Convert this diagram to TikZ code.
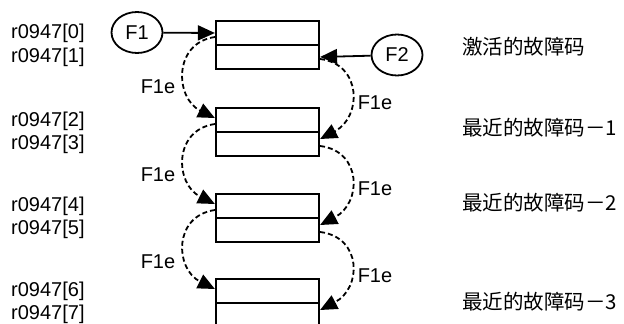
\documentclass[tikz,border=0pt]{standalone}
\usepackage{fontspec}
\setmainfont{Liberation Sans}
\newfontfamily\cjk{Noto Sans CJK SC}
\usetikzlibrary{arrows.meta,shapes.geometric}
\begin{document}
\begin{tikzpicture}[x=1pt,y=-1pt,
  row/.style={draw, line width=2.2pt, minimum width=103pt, minimum height=24pt, inner sep=0pt},
  fault/.style={draw, ellipse, line width=1.8pt, minimum width=51pt, minimum height=41pt, inner sep=0pt, font=\fontsize{20}{24}\selectfont},
  reg/.style={anchor=west, inner sep=0pt, font=\fontsize{20}{24}\selectfont},
  lab/.style={inner sep=0pt, font=\fontsize{20}{24}\selectfont},
  zh/.style={anchor=west, inner sep=0pt, font=\fontsize{20.5}{24}\cjk},
  arr/.style={line width=1.8pt, -{Triangle[length=17pt,width=15pt]}},
  darr/.style={arr, dash pattern=on 5pt off 3pt},
]
\useasboundingbox (0,0) rectangle (624,324);
\clip (0,0) rectangle (624,324);

% fault buffer boxes
\node[row] (b1a) at (267.5,33) {};
\node[row] (b1b) at (267.5,57) {};
\node[row] (b2a) at (267.5,120) {};
\node[row] (b2b) at (267.5,144) {};
\node[row] (b3a) at (267.5,206) {};
\node[row] (b3b) at (267.5,230) {};
\node[row] (b4a) at (267.5,291) {};
\node[row] (b4b) at (267.5,315) {};

% fault sources
\node[fault] (F1) at (137,32.5) {F1};
\node[fault] (F2) at (397,55) {F2};

\draw[arr] (F1) -- (b1a.west);
\draw[arr] (F2) -- (b1b.east);

% left shift arrows
\draw[darr] ([yshift=-4pt]b1a.west) .. controls +(-42,6) and +(-40,-20) .. ([yshift=2pt]b2a.west);
\draw[darr] ([yshift=-4pt]b2a.west) .. controls +(-42,6) and +(-40,-20) .. ([yshift=2pt]b3a.west);
\draw[darr] ([yshift=-4pt]b3a.west) .. controls +(-42,6) and +(-40,-20) .. ([yshift=2pt]b4a.west);

% right shift arrows
\draw[darr] ([yshift=-2pt]b1b.east) .. controls +(42,5) and +(42,-22) .. ([yshift=5pt]b2b.east);
\draw[darr] ([yshift=-2pt]b2b.east) .. controls +(42,5) and +(42,-22) .. ([yshift=5pt]b3b.east);
\draw[darr] ([yshift=-2pt]b3b.east) .. controls +(42,5) and +(42,-22) .. ([yshift=5pt]b4b.east);

% shift labels
\node[lab] (e1) at (158,87) {F1e};
\node[lab] (e2) at (158,175) {F1e};
\node[lab] (e3) at (158,262) {F1e};
\node[lab] (e4) at (375,103) {F1e};
\node[lab] (e5) at (375,189) {F1e};
\node[lab] (e6) at (375,276) {F1e};

% register names
\node[reg] (r0) at (11,33) {r0947[0]};
\node[reg] (r1) at (11,57) {r0947[1]};
\node[reg] (r2) at (11,121) {r0947[2]};
\node[reg] (r3) at (11,144) {r0947[3]};
\node[reg] (r4) at (11,206) {r0947[4]};
\node[reg] (r5) at (11,229) {r0947[5]};
\node[reg] (r6) at (11,291) {r0947[6]};
\node[reg] (r7) at (11,314) {r0947[7]};

% descriptions
\node[zh] (t1) at (462,47) {激活的故障码};
\node[zh] (t2) at (462,128) {最近的故障码－1};
\node[zh] (t3) at (462,203) {最近的故障码－2};
\node[zh] (t4) at (462,302) {最近的故障码－3};
\end{tikzpicture}
\end{document}
